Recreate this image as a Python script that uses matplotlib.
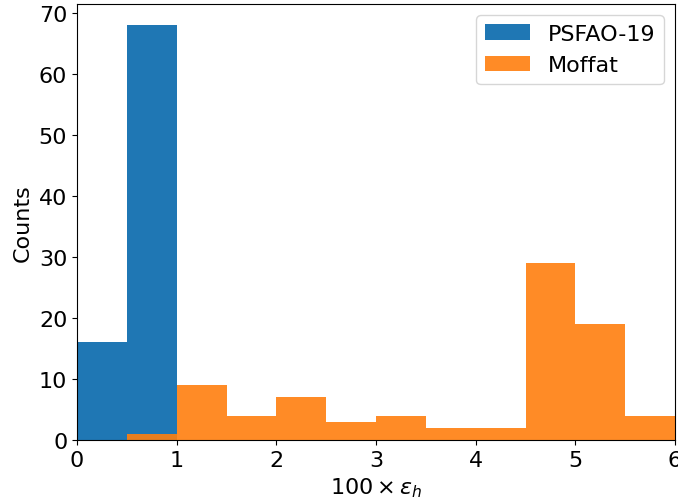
import matplotlib
matplotlib.use("Agg")
import matplotlib.pyplot as plt
import numpy as np

bin_edges = [0, 0.5, 1, 1.5, 2, 2.5, 3, 3.5, 4, 4.5, 5, 5.5, 6]
psfao_counts = [16, 68, 0, 0, 0, 0, 0, 0, 0, 0, 0, 0]
moffat_counts = [0, 1, 9, 4, 7, 3, 4, 2, 2, 29, 19, 4]

plt.rcParams['font.size'] = 16
fig = plt.figure(figsize=(6.78, 5.02), dpi=100)
ax = fig.add_axes([0.1136, 0.1215, 0.8820, 0.8685])
centers = np.array(bin_edges[:-1]) + 0.25
ax.hist(centers, bins=bin_edges, weights=psfao_counts, color='#1f77b4', label='PSFAO-19')
ax.hist(centers, bins=bin_edges, weights=moffat_counts, color='#ff7f0e', alpha=0.9, label='Moffat')
ax.set_xlim(0, 6)
ax.set_xlabel(r'$100 \times \epsilon_h$')
ax.set_ylabel('Counts')
ax.legend(loc='upper right')
fig.savefig('out.png', dpi=100)
